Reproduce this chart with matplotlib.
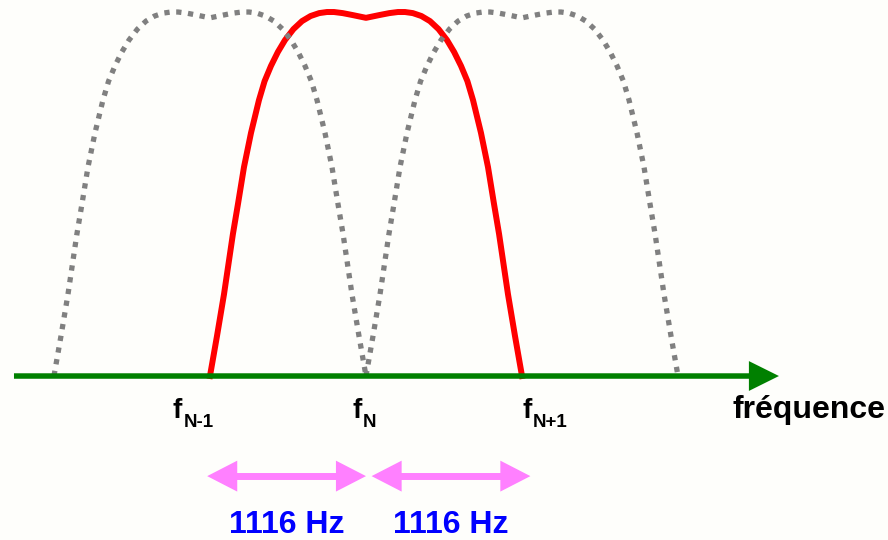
import numpy as np
import matplotlib.pyplot as plt

# channel grid (Hz)
channel_spacing = 1116
centres = [-1116, 0, 1116]
channel_names = ['N-1', 'N', 'N+1']
spacing_labels = ['1116 Hz', '1116 Hz']

# filter shape: offset as fraction of spacing, relative gain
shape_pos = [-1.0, -0.955, -0.91, -0.853, -0.82, -0.782, -0.737, -0.686, -0.65,
             -0.609, -0.565, -0.519, -0.465, -0.41, -0.355, -0.30, -0.25, -0.205,
             -0.15, -0.09, -0.045, 0.0,
             0.045, 0.09, 0.15, 0.205, 0.25, 0.30, 0.355, 0.41, 0.465, 0.519,
             0.565, 0.609, 0.65, 0.686, 0.737, 0.782, 0.82, 0.853, 0.91, 0.955, 1.0]
shape_gain = [0.0, 0.11, 0.225, 0.39, 0.474, 0.574, 0.668, 0.758, 0.81,
              0.852, 0.89, 0.923, 0.953, 0.975, 0.989, 0.997, 1.0, 1.0,
              0.997, 0.992, 0.988, 0.984,
              0.988, 0.992, 0.997, 1.0, 1.0, 0.997, 0.989, 0.975, 0.953, 0.923,
              0.89, 0.852, 0.81, 0.758, 0.668, 0.574, 0.474, 0.39, 0.225, 0.11, 0.0]

# label x offsets (Hz) from each channel centre
label_shift = [-270, -100, 0]
# spacing arrows offsets (Hz)
arrow_shift = [-10, 50]

bg = '#fefefb'
pink = '#ff80ff'
plt.rcParams['font.family'] = ['Liberation Sans', 'DejaVu Sans']
plt.rcParams['font.weight'] = 'bold'

fig = plt.figure(figsize=(8.88, 5.40), dpi=100, facecolor=bg)
ax = fig.add_axes([0, 0, 1, 1])
ax.set_facecolor(bg)
ax.set_xlim(-2618, 3734)
ax.set_ylim(-0.4505, 1.033)
ax.axis('off')

pos = np.array(shape_pos) * channel_spacing
gain = np.array(shape_gain)

# neighbour channels (dotted) and current channel (red)
ax.plot(centres[1] + pos, gain, color='red', lw=4.3, zorder=2,
        solid_joinstyle='round')
for c in (centres[0], centres[2]):
    ax.plot(c + pos, gain, color='#808080', lw=3.8, ls=(0, (1, 1.25)), zorder=3)

# frequency axis
x0, x1 = -2518, 2954
ax.arrow(x0, 0, x1 - x0, 0, width=0.0151, head_width=0.082, head_length=215,
         length_includes_head=True, color='#008000', lw=0, zorder=4)
ax.text(2625, -0.1154, 'fréquence', fontsize=23, fontweight='bold',
        ha='left', va='baseline')

# channel labels f_N...
for c, name, dx in zip(centres, channel_names, label_shift):
    ax.text(c + dx, -0.1154, 'f', fontsize=20, fontweight='bold',
            ha='left', va='baseline')
    ax.annotate(name, xy=(c + dx, -0.1154), xytext=(8, -6.5),
                textcoords='offset points', fontsize=13.5, fontweight='bold',
                ha='left', va='baseline')

# spacing arrows: one shaft and two heads
y_arr = -0.275
hl = 215
for i, lab in enumerate(spacing_labels):
    a = centres[i] + arrow_shift[i] - 10
    b = centres[i + 1] + arrow_shift[i] + 10
    mid = (a + b) / 2
    ax.hlines(y_arr, a + hl * 0.7, b - hl * 0.7, color=pink, lw=5)
    ax.arrow(a + hl, y_arr, -hl, 0, width=0.0, head_width=0.085, head_length=hl,
             length_includes_head=True, color=pink, lw=0)
    ax.arrow(b - hl, y_arr, hl, 0, width=0.0, head_width=0.085, head_length=hl,
             length_includes_head=True, color=pink, lw=0)
    ax.text(mid, -0.4313, lab, color='#0000ff', fontsize=23, fontweight='bold',
            ha='center', va='baseline')

fig.savefig('out.png', dpi=100, facecolor=bg)
